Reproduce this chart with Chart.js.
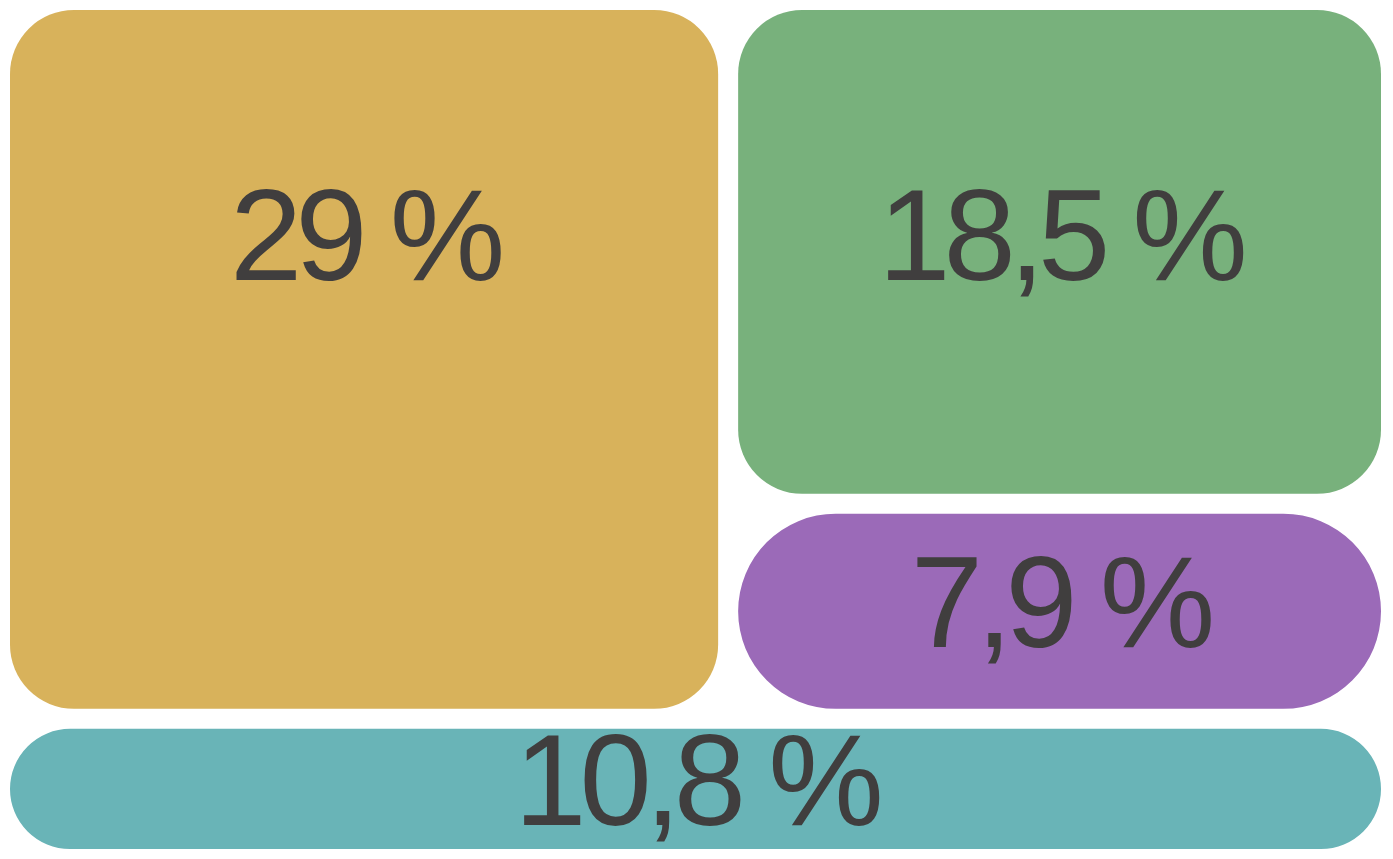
<!DOCTYPE html>
<html>
<head>
<meta charset="utf-8">
<script src="https://cdn.jsdelivr.net/npm/chart.js@4.4.1/dist/chart.umd.min.js"></script>
<style>
  html, body { margin: 0; background: #fff; }
  #wrap { width: 1393px; height: 859px; }
</style>
</head>
<body>
<div id="wrap"><canvas id="tiles"></canvas></div>
<script>
// data
const categories = ['Kategorie 1', 'Kategorie 2', 'Kategorie 3', 'Kategorie 4'];
const values = [29, 18.5, 7.9, 10.8];

// styles
const colors = ['#d8b25b', '#78b17c', '#9b6ab8', '#69b4b7'];
const radii = [64, 64, 120, 120];
const gap = 20;

const total = values.reduce((a, b) => a + b, 0);

// slice-and-dice layout in data units: x 0..1, y 0..total (area == value)
function layoutTiles() {
  const bottomH = values[3];
  const topH = total - bottomH;
  const leftW = values[0] / topH;
  const rightW = 1 - leftW;
  return [
    { x0: 0, x1: leftW, y0: bottomH, y1: total },
    { x0: leftW, x1: 1, y0: total - values[1] / rightW, y1: total },
    { x0: leftW, x1: 1, y0: bottomH, y1: bottomH + values[2] / rightW },
    { x0: 0, x1: 1, y0: 0, y1: bottomH }
  ];
}

const BarElement = (Chart.elements && Chart.elements.BarElement) || Chart.registry.getElement('bar');

const treemapPlugin = {
  id: 'treemap',
  afterDatasetsDraw(chart) {
    const ctx = chart.ctx;
    const xs = chart.scales.x, ys = chart.scales.y;
    const rects = layoutTiles();
    rects.forEach((r, i) => {
      const left = xs.getPixelForValue(r.x0) + gap / 2;
      const right = xs.getPixelForValue(r.x1) - gap / 2;
      const top = ys.getPixelForValue(r.y1) + gap / 2;
      const bottom = ys.getPixelForValue(r.y0) - gap / 2;
      const bar = new BarElement({
        x: (left + right) / 2,
        y: top,
        base: bottom,
        width: right - left,
        height: bottom - top,
        horizontal: false,
        inflateAmount: 0,
        enableBorderRadius: true,
        borderSkipped: {},
        options: {
          backgroundColor: colors[i],
          borderColor: colors[i],
          borderWidth: 0,
          borderRadius: radii[i]
        }
      });
      bar.draw(ctx);

      const h = bottom - top;
      const label = String(values[i]).replace('.', ',') + ' %';
      ctx.save();
      ctx.fillStyle = '#403e3e';
      ctx.font = '400 130px "Liberation Sans", Arial, sans-serif';
      ctx.textAlign = 'center';
      ctx.textBaseline = 'middle';
      if ('letterSpacing' in ctx) ctx.letterSpacing = '-7px';
      ctx.fillText(label, (left + right) / 2, top + Math.min(h / 2, 234));
      ctx.restore();
    });
  }
};

new Chart(document.getElementById('tiles'), {
  type: 'scatter',
  data: {
    labels: categories,
    datasets: [{ data: [], pointRadius: 0 }]
  },
  options: {
    responsive: true,
    maintainAspectRatio: false,
    animation: false,
    layout: { padding: { left: 0, right: 2, top: 0, bottom: 0 } },
    plugins: { legend: { display: false }, tooltip: { enabled: false } },
    scales: {
      x: { type: 'linear', min: 0, max: 1, display: false },
      y: { type: 'linear', min: 0, max: total, display: false }
    }
  },
  plugins: [treemapPlugin]
});
</script>
</body>
</html>
